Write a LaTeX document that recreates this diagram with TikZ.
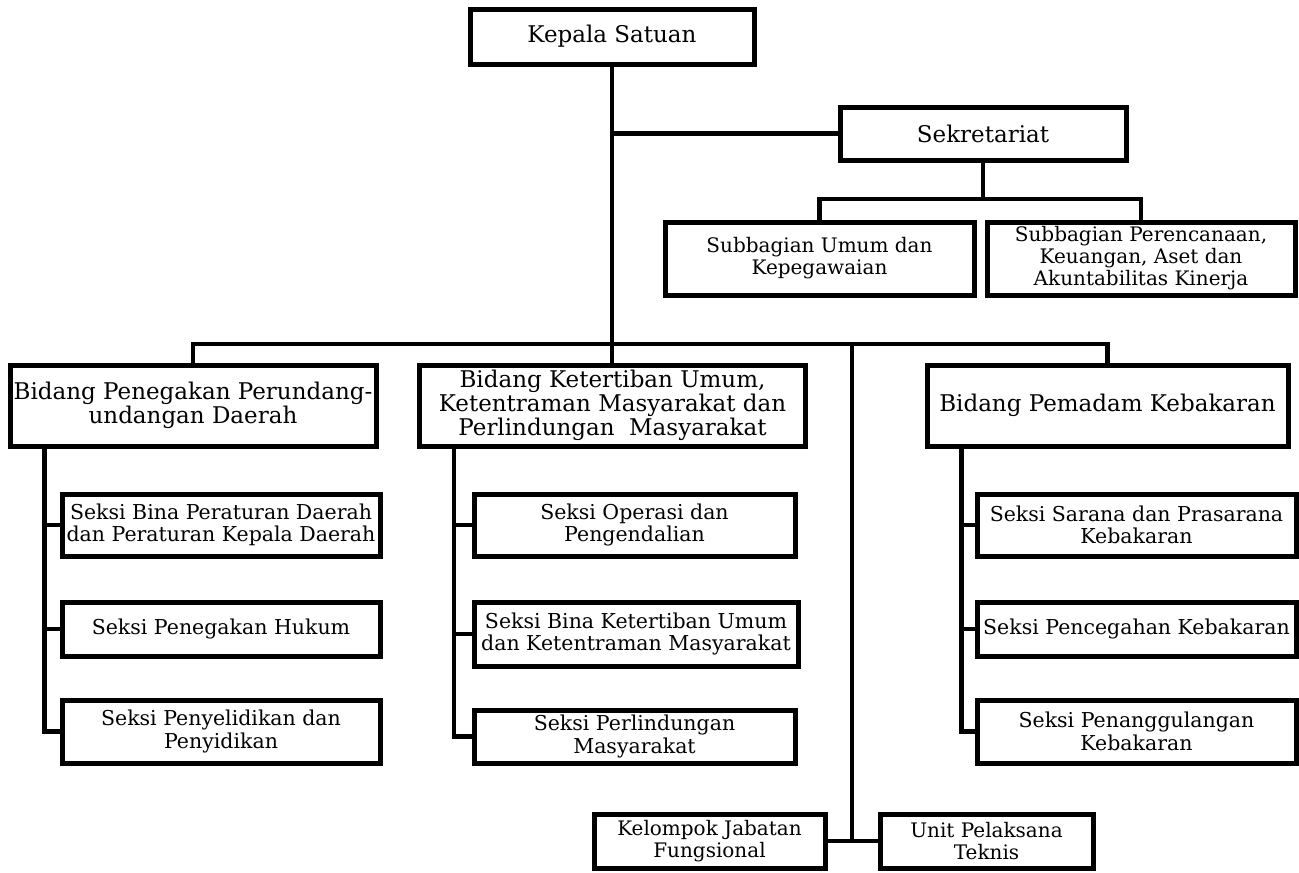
\documentclass[tikz,border=0pt]{standalone}
\usepackage{fontspec}
\setmainfont{DejaVu Serif}
\usetikzlibrary{positioning}

\begin{document}
\begin{tikzpicture}[
  x=1pt, y=-1pt,
  box/.style={rectangle, draw, line width=5pt, align=center, inner sep=0pt, font=\fontsize{23}{24}\selectfont},
  sub/.style={box, font=\fontsize{20}{22}\selectfont},
  seksi/.style={box, minimum width=320pt, font=\fontsize{20.5}{22.5}\selectfont},
  link/.style={line width=4.5pt}
]
\path[fill=white] (0,0) rectangle (1299,873);
\useasboundingbox (0,0) rectangle (1299,873);

% pimpinan dan sekretariat
\node[box, minimum width=284pt, minimum height=55pt] (kepala) at (612,36.5) {Kepala Satuan};
\node[box, minimum width=286pt, minimum height=53pt] (sekretariat) at (983,133.5) {Sekretariat};
\node[sub, minimum width=309pt, minimum height=73pt] (umum) at (819.5,258.5) {Subbagian Umum dan\\ Kepegawaian};
\node[sub, minimum width=308pt, minimum height=73pt] (rencana) at (1141,258.5) {Subbagian Perencanaan,\\ Keuangan, Aset dan\\ Akuntabilitas Kinerja};

% bidang
\node[box, minimum width=366pt, minimum height=81pt] (bid1) at (193,405.5) {Bidang Penegakan Perundang-\\ undangan Daerah};
\node[box, minimum width=386pt, minimum height=81pt] (bid2) at (612.5,405.5) {Bidang Ketertiban Umum,\\ Ketentraman Masyarakat dan\\ Perlindungan~ Masyarakat};
\node[box, minimum width=361pt, minimum height=81pt] (bid3) at (1107.5,405.5) {Bidang Pemadam Kebakaran};

% seksi
\node[seksi, minimum width=318pt, minimum height=62pt] (sek11) at (221,525) {Seksi Bina Peraturan Daerah\\ dan Peraturan Kepala Daerah};
\node[seksi, minimum width=318pt, minimum height=54pt] (sek12) at (221,629) {Seksi Penegakan Hukum};
\node[seksi, minimum width=318pt, minimum height=63pt] (sek13) at (221,731.5) {Seksi Penyelidikan dan\\ Penyidikan};
\node[seksi, minimum width=321pt, minimum height=62pt] (sek21) at (634.5,525) {Seksi Operasi dan\\ Pengendalian};
\node[seksi, minimum width=324pt, minimum height=64pt] (sek22) at (636,634) {Seksi Bina Ketertiban Umum\\ dan Ketentraman Masyarakat};
\node[seksi, minimum width=321pt, minimum height=53pt] (sek23) at (634.5,736.5) {Seksi Perlindungan\\ Masyarakat};
\node[seksi, minimum width=319pt, minimum height=62pt] (sek31) at (1136.5,525) {Seksi Sarana dan Prasarana\\ Kebakaran};
\node[seksi, minimum width=319pt, minimum height=54pt] (sek32) at (1136.5,629) {Seksi Pencegahan Kebakaran};
\node[seksi, minimum width=319pt, minimum height=63pt] (sek33) at (1136.5,731.5) {Seksi Penanggulangan\\ Kebakaran};

% jabatan fungsional dan UPT
\node[sub, minimum width=231pt, minimum height=54pt] (jabatan) at (709.5,841) {Kelompok Jabatan\\ Fungsional};
\node[sub, minimum width=213pt, minimum height=54pt] (upt) at (986.5,841) {Unit Pelaksana\\ Teknis};

\coordinate (bus) at (612,344);
\coordinate (sbus) at (983,199);
\coordinate (ujung) at (852,344);

\draw[link] (kepala.south) -- (kepala.south |- bid2.north);
\draw[link] (kepala.south |- sekretariat.west) -- (sekretariat.west);
\draw[link] (sekretariat.south) -- (sbus);
\draw[link] (umum.north) -- (umum.north |- sbus) -- (rencana.north |- sbus) -- (rencana.north);
\draw[link] (bid1.north) -- (bid1.north |- bus) -- (bid3.north |- bus) -- (bid3.north);
\draw[link] (ujung) -- (ujung |- jabatan.east);
\draw[link] (jabatan.east) -- (upt.west);

\foreach \b in {1,2,3}
  \foreach \s in {1,2,3}
    \draw[link] ([xshift=37pt]bid\b.south west) |- (sek\b\s.west);

\end{tikzpicture}
\end{document}
